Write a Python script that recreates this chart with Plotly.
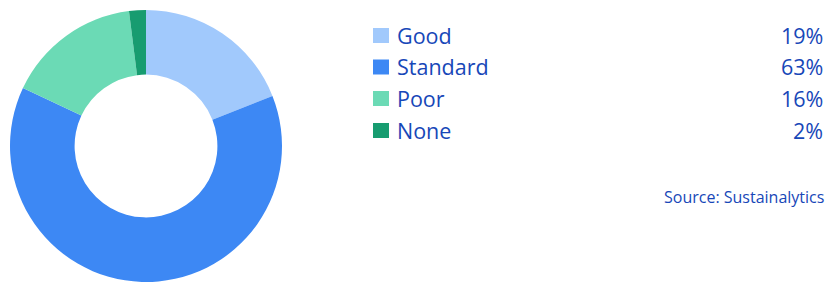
import plotly.graph_objects as go

categories = ["Good", "Standard", "Poor", "None"]
values = [19, 63, 16, 2]
labels_pct = ["19%", "63%", "16%", "2%"]
colors = ["#a1c9fc", "#3d88f4", "#6bdab5", "#179c70"]
source = "Source: Sustainalytics"

W, H = 826, 282
TEXT = "#1747b8"
FONT = "Open Sans"


def px(x):
    return x / W


def py(y):
    return 1 - y / H


fig = go.Figure()
fig.add_trace(go.Pie(
    labels=categories, values=values, hole=0.525, sort=False,
    direction="clockwise", rotation=0, textinfo="none", hoverinfo="label+percent",
    marker=dict(colors=colors, line=dict(width=0)),
    domain=dict(x=[px(9), px(283)], y=[0, 272 / H]), showlegend=False,
))

row_y = [35.5, 67, 98.5, 130.5]
for cat, pct, col, yc in zip(categories, labels_pct, colors, row_y):
    fig.add_shape(type="rect", xref="paper", yref="paper",
                  x0=px(373), x1=px(389), y0=py(yc + 7.5), y1=py(yc - 7.5),
                  fillcolor=col, line=dict(width=0))
    fig.add_annotation(x=px(395), y=py(yc), xref="paper", yref="paper",
                       text=cat, showarrow=False, xanchor="left", yanchor="middle",
                       font=dict(family=FONT, size=21.5, color=TEXT))
    fig.add_annotation(x=px(825), y=py(yc), xref="paper", yref="paper",
                       text=pct, showarrow=False, xanchor="right", yanchor="middle",
                       font=dict(family=FONT, size=21.5, color=TEXT))

fig.add_annotation(x=px(826), y=py(197), xref="paper", yref="paper",
                   text=source, showarrow=False, xanchor="right", yanchor="middle",
                   font=dict(family=FONT, size=16, color=TEXT))

fig.update_layout(width=W, height=H, margin=dict(l=0, r=0, t=0, b=0),
                  paper_bgcolor="white", plot_bgcolor="white")
fig.write_html(
    "out.html",
    config={"displayModeBar": False},
    post_script="document.body.style.margin='0';document.body.style.overflow='hidden';",
)
